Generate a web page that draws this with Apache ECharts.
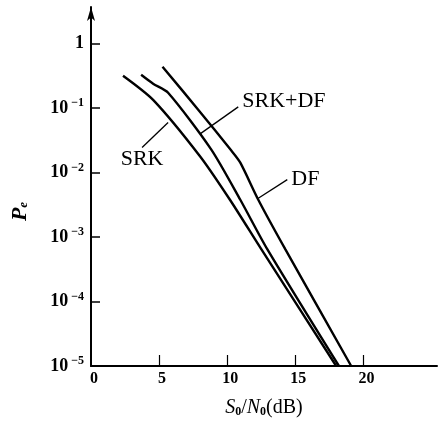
<!DOCTYPE html>
<html>
<head>
<meta charset="utf-8">
<script src="https://cdn.jsdelivr.net/npm/echarts@6/dist/echarts.min.js"></script>
<style>
html, body { margin: 0; padding: 0; background: #fff; }
#main { width: 439px; height: 422px; }
</style>
</head>
<body>
<div id="main"></div>
<script>
// S0/N0 (dB) vs Pe
var srk = [[2.35, 0.32], [4.56, 0.135], [8.0, 0.018], [10.2, 0.0038], [12.5, 0.00065], [18.0, 0.00001]];
var srkDf = [[3.68, 0.33], [4.56, 0.24], [5.66, 0.174], [8.82, 0.023], [10.96, 0.0038], [12.94, 0.00065], [18.2, 0.00001]];
var df = [[5.25, 0.44], [7.87, 0.095], [10.3, 0.022], [10.96, 0.0143], [12.28, 0.0038], [14.26, 0.00065], [19.1, 0.00001]];

var xTicks = [5, 10, 15, 20];
var xLabels = [0, 5, 10, 15, 20];

// leader lines for the curve names: [from, to] in data units
var srkLead = [[3.75, 0.0245], [5.66, 0.06]];
var srkDfLead = [[8.01, 0.040], [10.81, 0.105]];
var dfLead = [[12.28, 0.0040], [14.41, 0.0078]];

var serif = '"Liberation Serif", "DejaVu Serif", serif';

var chart = echarts.init(document.getElementById('main'));

function curve(name, data) {
	return {
		name: name,
		type: 'line',
		data: data,
		smooth: 0.25,
		showSymbol: false,
		lineStyle: { color: '#000', width: 2.4 },
		silent: true
	};
}

function leader(pts, text, pos, offset) {
	return {
		type: 'line',
		symbol: 'circle',
		symbolSize: 0,
		lineStyle: { color: '#000', width: 1.3 },
		data: [{
			value: pts[0],
			label: { show: pos == 'bottom', position: 'bottom', distance: 1, offset: offset, formatter: text }
		}, {
			value: pts[1],
			label: { show: pos == 'right', position: 'right', distance: 4, offset: offset, formatter: text }
		}],
		label: {
			color: '#000',
			fontFamily: serif,
			fontSize: 22
		},
		silent: true
	};
}

var option = {
	animation: false,
	backgroundColor: '#fff',
	grid: {
		left: 91,
		right: 2,
		top: 7,
		bottom: 56,
		outerBoundsMode: 'none',
		containLabel: false
	},
	xAxis: {
		type: 'value',
		min: 0,
		max: 25.4,
		interval: 5,
		name: '{i|S}{sub|0}{n|/}{i|N}{sub|0}{n|(dB)}',
		nameLocation: 'middle',
		nameGap: 32,
		nameTextStyle: {
			rich: {
				i: { fontFamily: serif, fontStyle: 'italic', fontSize: 20, color: '#000' },
				n: { fontFamily: serif, fontSize: 20, color: '#000' },
				sub: { fontFamily: serif, fontSize: 12, fontWeight: 'bold', color: '#000', padding: [8, 0, 0, 0] }
			}
		},
		axisLine: { lineStyle: { color: '#000', width: 2 } },
		axisTick: {
			inside: true,
			length: 11,
			customValues: xTicks,
			lineStyle: { color: '#000', width: 1.2 }
		},
		axisLabel: {
			customValues: xLabels,
			margin: 5,
			padding: [0, 0, 0, 6],
			color: '#000',
			fontFamily: serif,
			fontWeight: 'bold',
			fontSize: 16,
			formatter: function(v) {
				return xLabels.indexOf(v) >= 0 ? String(v) : '';
			}
		},
		splitLine: { show: false }
	},
	yAxis: {
		type: 'log',
		min: 0.00001,
		max: 3.72,
		logBase: 10,
		name: '{p|P}{e|e}',
		nameLocation: 'middle',
		nameRotate: 90,
		nameGap: 60,
		nameTextStyle: {
			padding: [0, 50, 0, 0],
			rich: {
				p: { fontFamily: serif, fontStyle: 'italic', fontWeight: 'bold', fontSize: 22, color: '#000' },
				e: { fontFamily: serif, fontStyle: 'italic', fontWeight: 'bold', fontSize: 13, color: '#000', padding: [8, 0, 0, 0] }
			}
		},
		axisLine: {
			show: true,
			symbol: ['none', 'arrow'],
			symbolSize: [6, 14],
			lineStyle: { color: '#000', width: 2 }
		},
		axisTick: {
			inside: true,
			length: 9,
			customValues: [0.0001, 0.001, 0.01, 0.1, 1],
			lineStyle: { color: '#000', width: 1.5 }
		},
		axisLabel: {
			customValues: [0.00001, 0.0001, 0.001, 0.01, 0.1, 1],
			margin: 7,
			color: '#000',
			formatter: function(v) {
				var l = Math.log(v) / Math.LN10;
				var e = Math.round(l);
				if (Math.abs(l - e) > 1e-6) return '';
				if (e === 0) return '{b|1}';
				return '{b|10}{s| \u2212' + (-e) + '}';
			},
			rich: {
				b: { fontFamily: serif, fontWeight: 'bold', fontSize: 18, color: '#000' },
				s: { fontFamily: serif, fontWeight: 'bold', fontSize: 12, color: '#000', padding: [0, 0, 10, 0] }
			}
		},
		splitLine: { show: false }
	},
	series: [
		curve('SRK', srk),
		curve('SRK+DF', srkDf),
		curve('DF', df),
		leader(srkLead, 'SRK', 'bottom', [0, 0]),
		leader(srkDfLead, 'SRK+DF', 'right', [0, -6]),
		leader(dfLead, 'DF', 'right', [0, 0])
	]
};

chart.setOption(option);
</script>
</body>
</html>
